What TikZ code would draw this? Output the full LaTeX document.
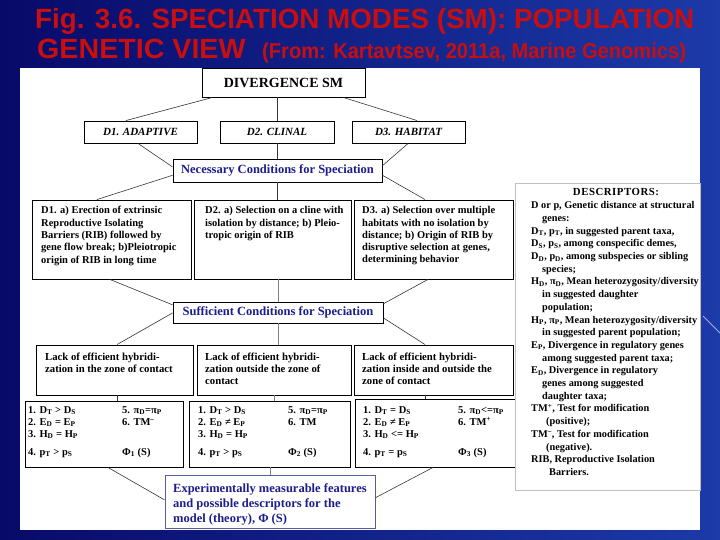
\documentclass[tikz,border=0pt]{standalone}
\usepackage{fontspec}
\setmainfont{Liberation Serif}
\newfontfamily\titlefont{Liberation Sans}
\usetikzlibrary{calc}
\definecolor{navy}{RGB}{8,10,105}
\definecolor{bgblue}{RGB}{28,58,168}
\definecolor{titlered}{RGB}{200,14,14}
\definecolor{txtblue}{RGB}{28,28,140}
\definecolor{linegray}{RGB}{55,55,55}
\newcommand{\sbs}[1]{\textsubscript{#1}}
\begin{document}
\begin{tikzpicture}[x=1pt,y=-1pt,
  box/.style={draw=black, line width=0.9pt, fill=white, inner sep=0pt},
  conn/.style={draw=linegray, line width=0.6pt},
  titlef/.style={inner sep=0pt, text=titlered, font=\titlefont\bfseries\fontsize{27.8}{30}\selectfont},
  btxt/.style={inner sep=0pt, align=left, anchor=north west, font=\fontsize{10.5}{12.3}\selectfont\bfseries},
  ltxt/.style={inner sep=0pt, align=left, anchor=north west, font=\fontsize{10.7}{12}\selectfont\bfseries},
  ctxt/.style={inner sep=0pt, anchor=base west, font=\fontsize{10.5}{12}\selectfont\bfseries},
  dtxt/.style={inner sep=0pt, align=left, anchor=north west, font=\fontsize{10.3}{12.7}\selectfont\bfseries},
  bluetxt/.style={text=txtblue, font=\fontsize{12.5}{15}\selectfont\bfseries},
  modetxt/.style={font=\fontsize{11}{13}\selectfont\bfseries\itshape}
]
\useasboundingbox (0,0) rectangle (720,540);
\shade[left color=navy, right color=bgblue] (0,0) rectangle (720,540);
\draw[white!60!bgblue, line width=0.8pt] (703,316) -- (720,333);
\fill[white] (20,68) rectangle (700,530);

% title
\node[titlef, anchor=base west] (t1) at (35,29) {Fig. 3.6. SPECIATION MODES (SM): POPULATION};
\node[titlef, anchor=base west] (t2) at (37,59) {\scalebox{1.03}[1]{GENETIC VIEW}};
\node[inner sep=0pt, anchor=base west, text=titlered, font=\titlefont\bfseries\fontsize{21.5}{24}\selectfont] (t3) at (262,59) {\scalebox{0.935}[1]{(From: Kartavtsev, 2011a, Marine Genomics)}};

% boxes
\node[box, minimum width=163, minimum height=29, font=\fontsize{14}{16}\selectfont\bfseries] (div) at (283.5,82.5) {DIVERGENCE SM};
\node[box, minimum width=113, minimum height=22, modetxt] (d1) at (140.5,132) {D1. ADAPTIVE};
\node[box, minimum width=114, minimum height=22, modetxt] (d2) at (277,132) {D2. CLINAL};
\node[box, minimum width=113, minimum height=22, modetxt] (d3) at (408.5,132) {D3. HABITAT};
\node[box, minimum width=209, minimum height=23, bluetxt] (nec) at (277.5,170.5) {Necessary Conditions for Speciation};
\node[box, minimum width=159, minimum height=79] (a1) at (111.5,239.5) {};
\node[box, minimum width=157, minimum height=79] (a2) at (272.5,239.5) {};
\node[box, minimum width=159, minimum height=79] (a3) at (433.5,239.5) {};
\node[box, minimum width=210, minimum height=21, bluetxt] (suf) at (278,312.5) {Sufficient Conditions for Speciation};
\node[box, minimum width=157, minimum height=50] (l1) at (114.5,370) {};
\node[box, minimum width=154, minimum height=50] (l2) at (274,370) {};
\node[box, minimum width=159, minimum height=50] (l3) at (433.5,370) {};
\node[box, minimum width=158, minimum height=66] (c1) at (104,434) {};
\node[box, minimum width=161, minimum height=66] (c2) at (269.5,434) {};
\node[box, minimum width=160, minimum height=68] (c3) at (435,433) {};
\node[box, draw=gray!70!blue, minimum width=210, minimum height=53] (exp) at (270,501.5) {};
\node[box, draw=gray!50, line width=0.5pt, minimum width=185, minimum height=307] (desc) at (607.5,336.5) {};

% texts
\node[btxt] (a1t) at (41,206.3) {D1. a) Erection of extrinsic\\Reproductive Isolating\\Barriers (RIB) followed by\\gene flow break; b)Pleiotropic\\origin of RIB in long time};
\node[btxt] (a2t) at (205,206.3) {D2. a) Selection on a cline with\\isolation by distance; b) Pleio-\\tropic origin of RIB};
\node[btxt] (a3t) at (362,206.3) {D3. a) Selection over multiple\\habitats with no isolation by\\distance; b) Origin of RIB by\\disruptive selection at genes,\\determining behavior};
\node[ltxt] (l1t) at (45,353) {Lack of efficient hybridi-\\zation in the zone of contact};
\node[ltxt] (l2t) at (205,353) {Lack of efficient hybridi-\\zation outside the zone of\\contact};
\node[ltxt] (l3t) at (362,353) {Lack of efficient hybridi-\\zation inside and outside the\\zone of contact};

\node[ctxt] (c1r1) at (28,413) {1. D\sbs{T} > D\sbs{S}};
\node[ctxt] (c1r2) at (28,425) {2. E\sbs{D} = E\sbs{P}};
\node[ctxt] (c1r3) at (28,437) {3. H\sbs{D} = H\sbs{P}};
\node[ctxt] (c1r4) at (28,455) {4. p\sbs{T} > p\sbs{S}};
\node[ctxt] (c1r5) at (122,413) {5. π\sbs{D}=π\sbs{P}};
\node[ctxt] (c1r6) at (122,425) {6. TM\textsuperscript{–}};
\node[ctxt] (c1r7) at (122,455) {Φ\sbs{1} (S)};

\node[ctxt] (c2r1) at (198,413) {1. D\sbs{T} > D\sbs{S}};
\node[ctxt] (c2r2) at (198,425) {2. E\sbs{D} ≠ E\sbs{P}};
\node[ctxt] (c2r3) at (198,437) {3. H\sbs{D} = H\sbs{P}};
\node[ctxt] (c2r4) at (198,455) {4. p\sbs{T} > p\sbs{S}};
\node[ctxt] (c2r5) at (288,413) {5. π\sbs{D}=π\sbs{P}};
\node[ctxt] (c2r6) at (288,425) {6. TM};
\node[ctxt] (c2r7) at (288,455) {Φ\sbs{2} (S)};

\node[ctxt] (c3r1) at (363,413) {1. D\sbs{T} = D\sbs{S}};
\node[ctxt] (c3r2) at (363,425) {2. E\sbs{D} ≠ E\sbs{P}};
\node[ctxt] (c3r3) at (363,437) {3. H\sbs{D} <= H\sbs{P}};
\node[ctxt] (c3r4) at (363,455) {4. p\sbs{T} = p\sbs{S}};
\node[ctxt] (c3r5) at (458,413) {5. π\sbs{D}<=π\sbs{P}};
\node[ctxt] (c3r6) at (458,425) {6. TM\textsuperscript{+}};
\node[ctxt] (c3r7) at (458,455) {Φ\sbs{3} (S)};

\node[inner sep=0pt, align=left, anchor=north west, bluetxt] (expt) at (173,483.5) {Experimentally measurable features\\and possible descriptors for the\\model (theory), Φ (S)};

\node[inner sep=0pt, anchor=base, font=\fontsize{10.8}{12}\selectfont\bfseries\addfontfeature{LetterSpace=5}] (desch) at (616,196) {DESCRIPTORS:};
\node[dtxt] (desct) at (531,201.4) {D or p, Genetic distance at structural\\
\hspace*{11pt}genes:\\
D\sbs{T}, p\sbs{T}, in suggested parent taxa,\\
D\sbs{S}, p\sbs{S}, among conspecific demes,\\
D\sbs{D}, p\sbs{D}, among subspecies or sibling\\
\hspace*{11pt}species;\\
H\sbs{D}, π\sbs{D}, Mean heterozygosity/diversity\\
\hspace*{11pt}in suggested daughter\\
\hspace*{11pt}population;\\
H\sbs{P}, π\sbs{P}, Mean heterozygosity/diversity\\
\hspace*{11pt}in suggested parent population;\\
E\sbs{P}, Divergence in regulatory genes\\
\hspace*{11pt}among suggested parent taxa;\\
E\sbs{D}, Divergence in regulatory\\
\hspace*{11pt}genes among suggested\\
\hspace*{11pt}daughter taxa;\\
TM\textsuperscript{+}, Test for modification\\
\hspace*{15pt}(positive);\\
TM\textsuperscript{–}, Test for modification\\
\hspace*{15pt}(negative).\\
RIB, Reproductive Isolation\\
\hspace*{18pt}Barriers.};

% connectors
\draw[conn] ($(div.south west)!0.067!(div.south east)$) -- ($(d1.north west)!0.372!(d1.north east)$);
\draw[conn] (d2.north |- div.south) -- (d2.north);
\draw[conn] ($(div.south west)!0.865!(div.south east)$) -- ($(d3.north west)!0.575!(d3.north east)$);
\draw[conn] ($(d1.south west)!0.478!(d1.south east)$) -- ($(nec.north west)!0.35!(nec.south west)$);
\draw[conn] (nec.north) -- (nec.north |- d2.south);
\draw[conn] ($(d3.south west)!0.496!(d3.south east)$) -- ($(nec.north east)!0.3!(nec.south east)$);
\draw[conn] ($(nec.north west)!0.7!(nec.south west)$) -- ($(a1.north west)!0.409!(a1.north east)$);
\draw[conn] (nec.south) -- (nec.south |- a2.north);
\draw[conn] ($(nec.north east)!0.7!(nec.south east)$) -- ($(a3.north west)!0.447!(a3.north east)$);
\draw[conn] ($(a1.south west)!0.49!(a1.south east)$) -- ($(suf.north west)!0.15!(suf.south west)$);
\draw[conn, draw=gray] (suf.north) -- (suf.north |- a2.south);
\draw[conn] ($(a3.south west)!0.465!(a3.south east)$) -- ($(suf.north east)!0.1!(suf.south east)$);
\draw[conn] ($(suf.north west)!0.52!(suf.south west)$) -- ($(l1.north west)!0.516!(l1.north east)$);
\draw[conn, draw=gray] (suf.south) -- (suf.south |- l2.north);
\draw[conn] ($(suf.north east)!0.75!(suf.south east)$) -- ($(l3.north west)!0.447!(l3.north east)$);
\coordinate (l1b) at ($(l1.south west)!0.516!(l1.south east)$);
\draw[conn] (l1b) -- (l1b |- c1.north);
\draw[conn, draw=gray] (l2.south) -- (l2.south |- c2.north);
\coordinate (l3b) at ($(l3.south west)!0.447!(l3.south east)$);
\draw[conn] (l3b) -- (l3b |- c3.north);
\draw[conn] ($(c1.south west)!0.525!(c1.south east)$) -- ($(exp.north west)!0.47!(exp.south west)$);
\draw[conn, draw=gray] (exp.north) -- (exp.north |- c2.south);
\draw[conn] ($(c3.south west)!0.4875!(c3.south east)$) -- ($(exp.north east)!0.43!(exp.south east)$);
\end{tikzpicture}
\end{document}
